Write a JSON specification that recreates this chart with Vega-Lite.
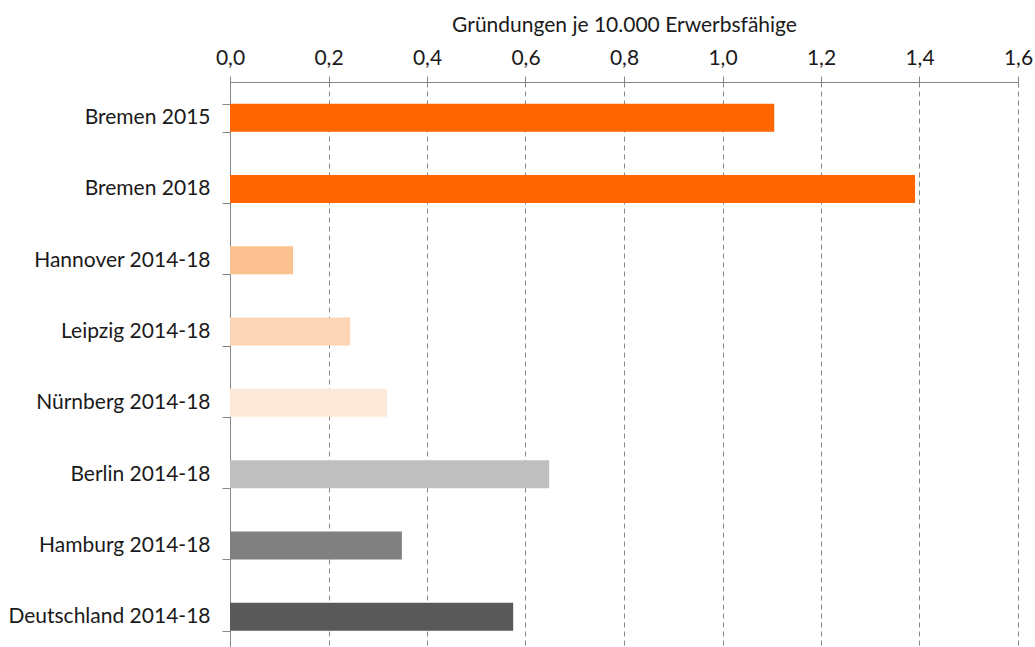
{
  "$schema": "https://vega.github.io/schema/vega-lite/v6.json",
  "width": 788,
  "height": 565,
  "autosize": {"type": "none"},
  "padding": {"left": 230, "top": 82, "right": 17, "bottom": 0},
  "background": "white",
  "config": {"view": {"stroke": null}, "font": "Lato"},
  "data": {
    "values": [
      {"label": "Bremen 2015", "value": 1.105},
      {"label": "Bremen 2018", "value": 1.391},
      {"label": "Hannover 2014-18", "value": 0.128},
      {"label": "Leipzig 2014-18", "value": 0.244},
      {"label": "Nürnberg 2014-18", "value": 0.319},
      {"label": "Berlin 2014-18", "value": 0.648},
      {"label": "Hamburg 2014-18", "value": 0.349},
      {"label": "Deutschland 2014-18", "value": 0.575}
    ]
  },
  "mark": {"type": "bar"},
  "encoding": {
    "y": {
      "field": "label",
      "type": "nominal",
      "sort": null,
      "scale": {"paddingInner": 0.607, "paddingOuter": 0.3035, "range": [0, 570.4]},
      "axis": {
        "title": null,
        "tickBand": "extent",
        "domainColor": "#868686",
        "tickColor": "#868686",
        "tickSize": 8,
        "labelPadding": 12,
        "labelFontSize": 21,
        "labelColor": "#1a1a1a",
        "labelLimit": 400,
        "grid": false
      }
    },
    "x": {
      "field": "value",
      "type": "quantitative",
      "scale": {"domain": [0, 1.6], "nice": false},
      "axis": {
        "orient": "top",
        "values": [0, 0.2, 0.4, 0.6, 0.8, 1.0, 1.2, 1.4, 1.6],
        "labelExpr": "replace(format(datum.value, '.1f'), '.', ',')",
        "labelFlush": false,
        "labelOverlap": false,
        "labelFontSize": 21,
        "labelColor": "#1a1a1a",
        "labelPadding": 8,
        "tickSize": 6,
        "tickColor": "#868686",
        "domainColor": "#868686",
        "grid": true,
        "gridColor": "#868686",
        "gridDash": [5, 4],
        "title": "Gründungen je 10.000 Erwerbsfähige",
        "titleFontSize": 21,
        "titleFontWeight": "normal",
        "titleColor": "#1a1a1a",
        "titlePadding": 12
      }
    },
    "color": {
      "field": "label",
      "type": "nominal",
      "sort": null,
      "scale": {
        "domain": ["Bremen 2015", "Bremen 2018", "Hannover 2014-18", "Leipzig 2014-18", "Nürnberg 2014-18", "Berlin 2014-18", "Hamburg 2014-18", "Deutschland 2014-18"],
        "range": ["#FF6600", "#FF6600", "#FAC090", "#FBD5B5", "#FDE9D9", "#BFBFBF", "#808080", "#595959"]
      },
      "legend": null
    }
  }
}
